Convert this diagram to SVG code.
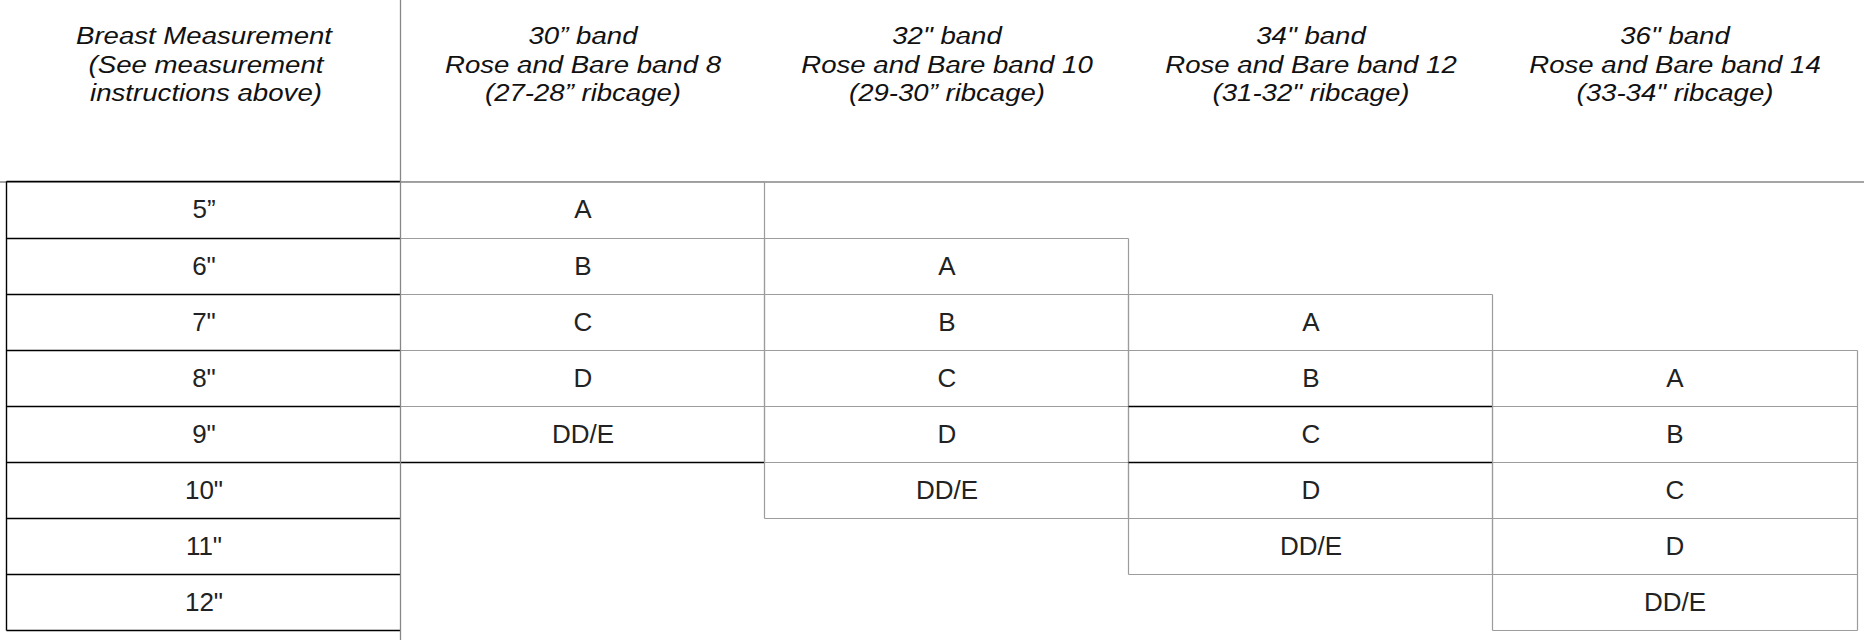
<svg xmlns="http://www.w3.org/2000/svg" width="1864" height="640" viewBox="0 0 1864 640">
<style>
.bg{fill:#ffffff}
.hd{font-family:"Liberation Sans",Arial,Helvetica,sans-serif;font-style:italic;font-size:24.5px;fill:#111;text-anchor:middle}
.tx{font-family:"Liberation Sans",Arial,Helvetica,sans-serif;font-size:26px;fill:#222;text-anchor:middle}
.g{stroke:#9c9c9c;stroke-width:1.2;fill:none}
.gd{stroke:#878787;stroke-width:1.3;fill:none}
.k{stroke:#000;stroke-width:1.4;fill:none}
</style>
<rect class="bg" x="0" y="0" width="1864" height="640"/>
<g id="header">
  <line class="gd" x1="0" y1="182" x2="1864" y2="182"/>
  <g id="header-measure">
    <text class="hd" x="204" y="44" textLength="256" lengthAdjust="spacingAndGlyphs">Breast Measurement</text>
    <text class="hd" x="206" y="72.5" textLength="235" lengthAdjust="spacingAndGlyphs">(See measurement</text>
    <text class="hd" x="206" y="101" textLength="232" lengthAdjust="spacingAndGlyphs">instructions above)</text>
  </g>
  <g id="header-30">
    <text class="hd" x="583" y="44" textLength="109" lengthAdjust="spacingAndGlyphs">30” band</text>
    <text class="hd" x="583" y="72.5" textLength="276" lengthAdjust="spacingAndGlyphs">Rose and Bare band 8</text>
    <text class="hd" x="583" y="101" textLength="196" lengthAdjust="spacingAndGlyphs">(27-28” ribcage)</text>
  </g>
  <g id="header-32">
    <text class="hd" x="947" y="44" textLength="109.5" lengthAdjust="spacingAndGlyphs">32" band</text>
    <text class="hd" x="947" y="72.5" textLength="291.5" lengthAdjust="spacingAndGlyphs">Rose and Bare band 10</text>
    <text class="hd" x="947" y="101" textLength="196" lengthAdjust="spacingAndGlyphs">(29-30” ribcage)</text>
  </g>
  <g id="header-34">
    <text class="hd" x="1311" y="44" textLength="109.5" lengthAdjust="spacingAndGlyphs">34" band</text>
    <text class="hd" x="1311" y="72.5" textLength="291.5" lengthAdjust="spacingAndGlyphs">Rose and Bare band 12</text>
    <text class="hd" x="1311" y="101" textLength="197" lengthAdjust="spacingAndGlyphs">(31-32" ribcage)</text>
  </g>
  <g id="header-36">
    <text class="hd" x="1675" y="44" textLength="109.5" lengthAdjust="spacingAndGlyphs">36" band</text>
    <text class="hd" x="1675" y="72.5" textLength="291.5" lengthAdjust="spacingAndGlyphs">Rose and Bare band 14</text>
    <text class="hd" x="1675" y="101" textLength="197" lengthAdjust="spacingAndGlyphs">(33-34" ribcage)</text>
  </g>
</g>
<g id="col-measure">
  <path class="k" d="M6.5,181.5 H400.5 M6.5,238.5 H400.5 M6.5,294.5 H400.5 M6.5,350.5 H400.5 M6.5,406.5 H400.5 M6.5,462.5 H400.5 M6.5,518.5 H400.5 M6.5,574.5 H400.5 M6.5,630.5 H400.5 M6.5,181.5 V630.5"/>
  <text class="tx" x="204" y="218">5”</text>
  <text class="tx" x="204" y="274.5">6"</text>
  <text class="tx" x="204" y="330.5">7"</text>
  <text class="tx" x="204" y="386.5">8"</text>
  <text class="tx" x="204" y="442.5">9"</text>
  <text class="tx" x="204" y="498.5">10"</text>
  <text class="tx" x="204" y="554.5">11"</text>
  <text class="tx" x="204" y="610.5">12"</text>
</g>
<g id="col-30">
  <path class="g" d="M400.5,181.5 H764.5 M400.5,238.5 H764.5 M400.5,294.5 H764.5 M400.5,350.5 H764.5 M400.5,406.5 H764.5 M764.5,181.5 V462.5"/>
  <path class="k" d="M400.5,462.5 H764.5"/>
  <text class="tx" x="583" y="218">A</text>
  <text class="tx" x="583" y="274.5">B</text>
  <text class="tx" x="583" y="330.5">C</text>
  <text class="tx" x="583" y="386.5">D</text>
  <text class="tx" x="583" y="442.5">DD/E</text>
</g>
<g id="col-32">
  <path class="g" d="M764.5,238.5 H1128.5 M764.5,294.5 H1128.5 M764.5,350.5 H1128.5 M764.5,406.5 H1128.5 M764.5,462.5 H1128.5 M764.5,518.5 H1128.5 M764.5,238.5 V518.5 M1128.5,238.5 V518.5"/>
  <text class="tx" x="947" y="274.5">A</text>
  <text class="tx" x="947" y="330.5">B</text>
  <text class="tx" x="947" y="386.5">C</text>
  <text class="tx" x="947" y="442.5">D</text>
  <text class="tx" x="947" y="498.5">DD/E</text>
</g>
<g id="col-34">
  <path class="g" d="M1128.5,294.5 H1492.5 M1128.5,350.5 H1492.5 M1128.5,518.5 H1492.5 M1128.5,574.5 H1492.5 M1128.5,294.5 V574.5 M1492.5,294.5 V574.5"/>
  <path class="k" d="M1128.5,406.5 H1492.5 M1128.5,462.5 H1492.5"/>
  <text class="tx" x="1311" y="330.5">A</text>
  <text class="tx" x="1311" y="386.5">B</text>
  <text class="tx" x="1311" y="442.5">C</text>
  <text class="tx" x="1311" y="498.5">D</text>
  <text class="tx" x="1311" y="554.5">DD/E</text>
</g>
<g id="col-36">
  <path class="g" d="M1492.5,350.5 H1857.5 M1492.5,406.5 H1857.5 M1492.5,462.5 H1857.5 M1492.5,518.5 H1857.5 M1492.5,574.5 H1857.5 M1492.5,630.5 H1857.5 M1492.5,350.5 V630.5 M1857.5,350.5 V630.5"/>
  <text class="tx" x="1675" y="386.5">A</text>
  <text class="tx" x="1675" y="442.5">B</text>
  <text class="tx" x="1675" y="498.5">C</text>
  <text class="tx" x="1675" y="554.5">D</text>
  <text class="tx" x="1675" y="610.5">DD/E</text>
</g>
<line id="divider" class="gd" x1="400.5" y1="0" x2="400.5" y2="640"/>
</svg>
